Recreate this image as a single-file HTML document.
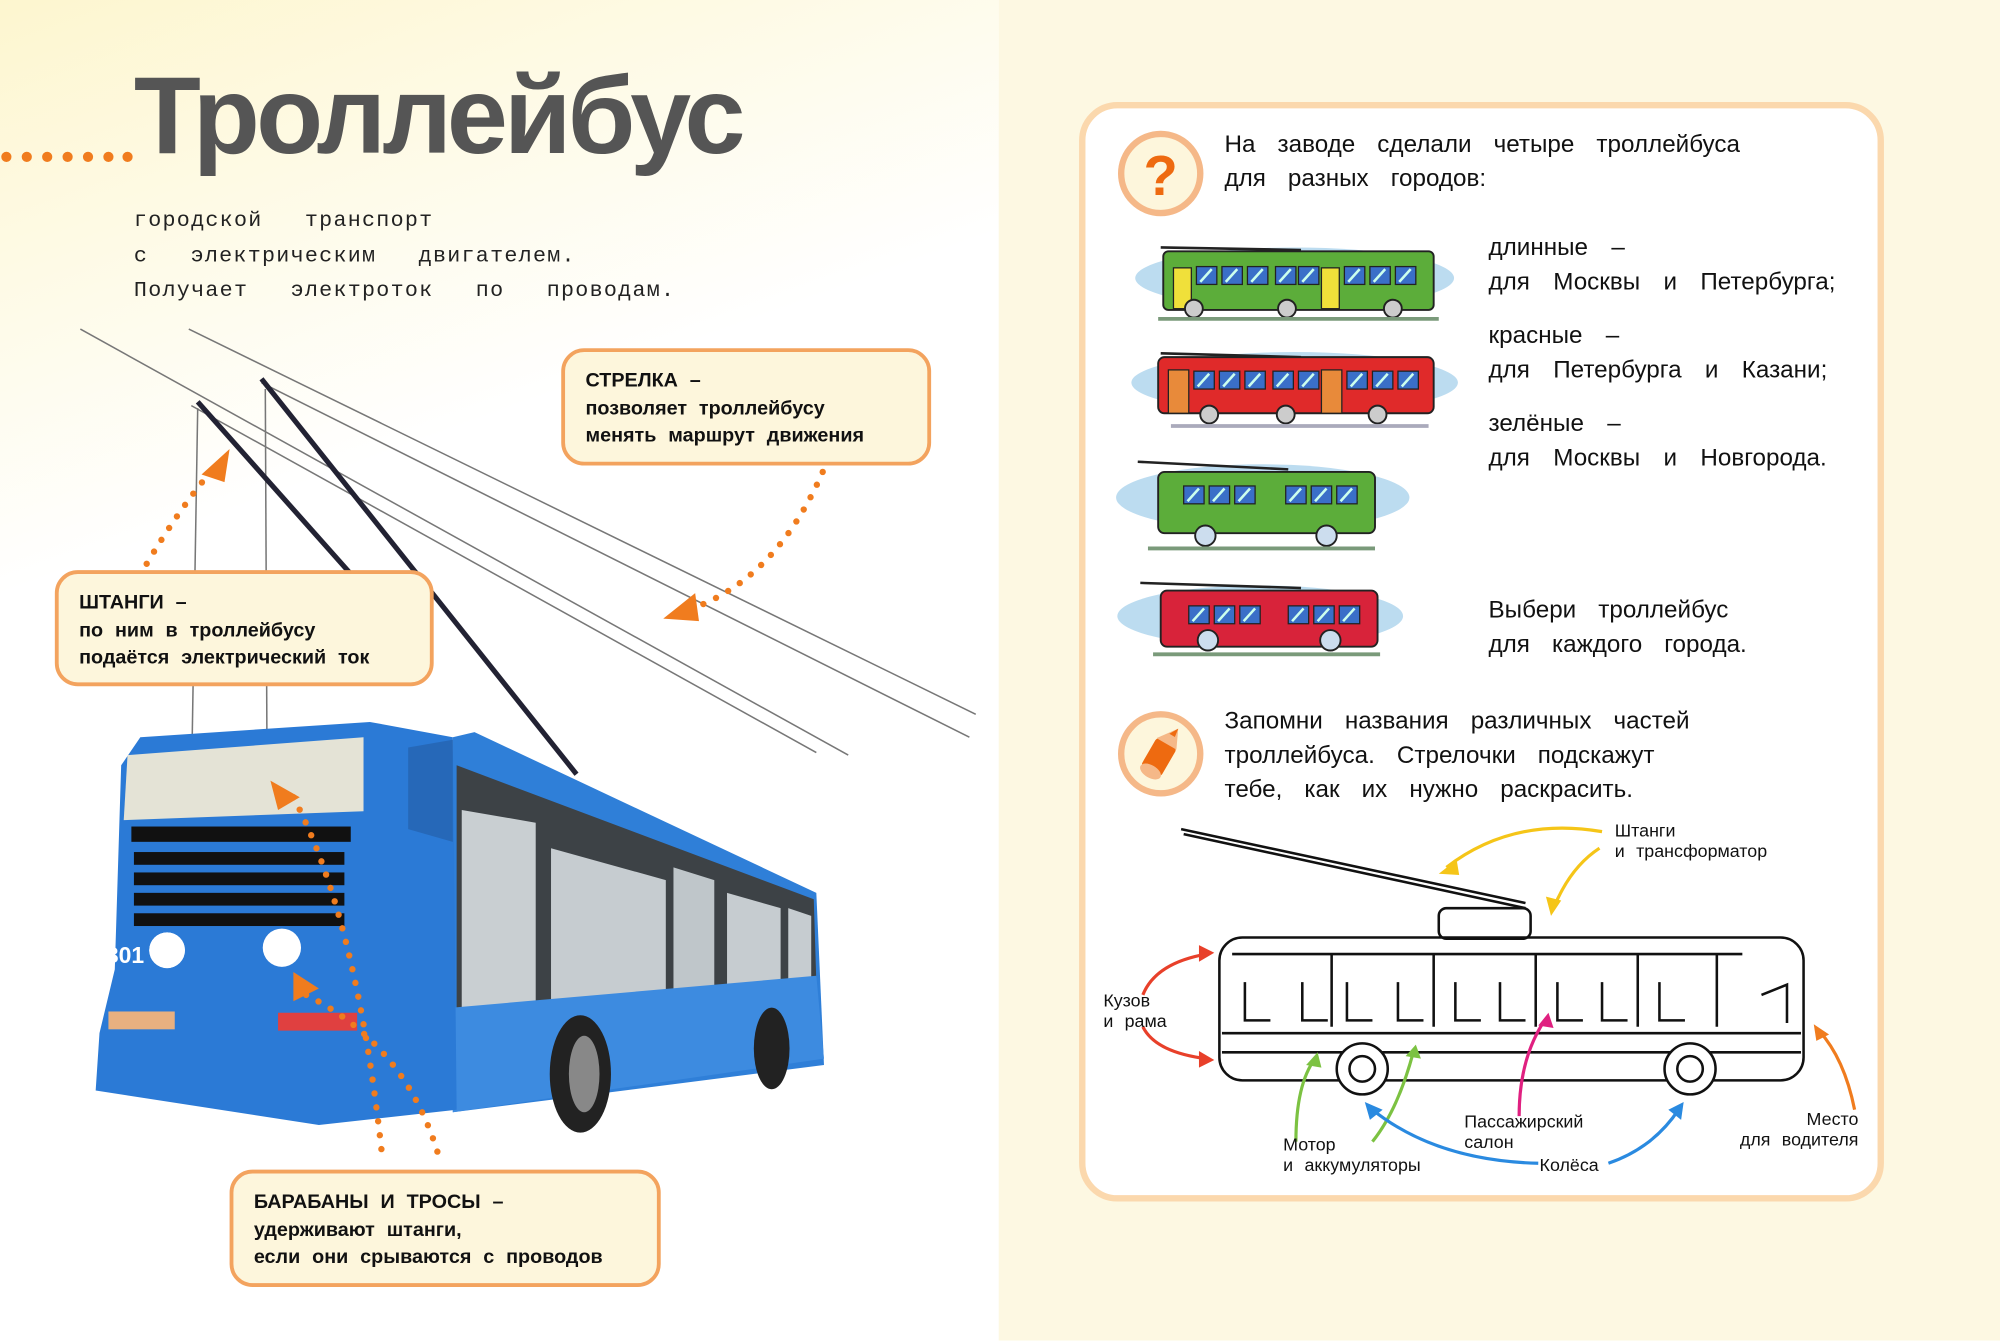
<!DOCTYPE html>
<html><head><meta charset="utf-8"><style>
html,body{margin:0;padding:0;width:2000px;height:1340px;overflow:hidden;background:#fff}
#w{position:absolute;left:0;top:0;width:1568px;height:1051px;transform:scale(1.27551);transform-origin:0 0;font-family:"Liberation Sans","Noto Sans CJK SC",sans-serif}
.t{position:absolute;white-space:nowrap}
.box{position:absolute;border:3px solid #f3a35e;border-radius:18px;background:#fdf6dc;box-sizing:border-box;font-weight:bold;font-size:15.5px;line-height:21.5px;word-spacing:5px;color:#111;padding:12px 0 0 16px}
.rt{font-size:19px;line-height:27px;word-spacing:12px;color:#111}
.sm{font-size:14px;line-height:16px;word-spacing:5px;color:#111}
</style></head><body><div id="w">
<div style="position:absolute;left:0;top:0;width:783px;height:1051px;background:linear-gradient(160deg,#fdf6cf 0%,#fff 35%)"></div>
<div style="position:absolute;left:783px;top:0;width:785px;height:1051px;background:#fdf8e2"></div>

<div class="t" style="left:105px;top:42px;font-size:86px;font-weight:bold;color:#555;letter-spacing:-3px">Троллейбус</div>
<svg style="position:absolute;left:0;top:115px" width="110" height="16"><g fill="#f07c1e"><circle cx="5" cy="8" r="4"/><circle cx="21" cy="8" r="4"/><circle cx="37" cy="8" r="4"/><circle cx="53" cy="8" r="4"/><circle cx="69" cy="8" r="4"/><circle cx="85" cy="8" r="4"/><circle cx="100" cy="8" r="4"/></g></svg>
<div class="t" style="left:105px;top:160px;font-family:'Liberation Mono',monospace;font-size:17px;line-height:27.5px;letter-spacing:1px;word-spacing:22px;color:#222">городской транспорт<br>с электрическим двигателем.<br>Получает электроток по проводам.</div>

<svg style="position:absolute;left:0;top:0" width="783" height="1051">
<g stroke="#777" stroke-width="1.2" fill="none">
<line x1="63" y1="258" x2="665" y2="592"/>
<line x1="148" y1="258" x2="765" y2="560"/>
<line x1="205" y1="300" x2="760" y2="578"/>
<line x1="150" y1="318" x2="640" y2="590"/>
<line x1="155" y1="320" x2="148" y2="740"/>
<line x1="208" y1="305" x2="210" y2="740"/>
</g>
<polygon points="355,578 372,574 640,700 646,835 355,872" fill="#2f7fd8"/>
<polygon points="358,600 638,705 640,770 358,790" fill="#3d4246"/>
<polygon points="362,635 420,645 420,790 362,795" fill="#c9cfd2"/>
<polygon points="432,665 522,690 522,780 432,785" fill="#c6ccd0"/>
<polygon points="528,680 560,690 560,775 528,778" fill="#bfc6ca"/>
<polygon points="570,700 612,712 612,770 570,772" fill="#c6ccd0"/>
<polygon points="618,712 636,718 636,770 618,771" fill="#c6ccd0"/>
<polygon points="355,790 640,765 646,830 355,872" fill="#3d8be0"/>
<ellipse cx="455" cy="842" rx="24" ry="46" fill="#222"/>
<ellipse cx="458" cy="842" rx="12" ry="30" fill="#888"/>
<ellipse cx="605" cy="822" rx="14" ry="32" fill="#222"/>
<polygon points="95,600 110,578 290,566 355,578 358,870 250,882 75,855 78,810 90,760" fill="#2b7ad6"/>
<polygon points="97,643 100,592 285,578 285,636" fill="#e4e3d6"/>
<g fill="#111"><rect x="103" y="648" width="172" height="12"/><rect x="105" y="668" width="165" height="10"/><rect x="105" y="684" width="165" height="10"/><rect x="105" y="700" width="165" height="10"/><rect x="105" y="716" width="165" height="10"/></g>
<circle cx="131" cy="745" r="14" fill="#fff"/><circle cx="221" cy="743" r="15" fill="#fff"/>
<text x="83" y="755" font-family="Liberation Sans" font-weight="bold" font-size="18" fill="#fff">301</text>
<circle cx="131" cy="745" r="14" fill="#fff"/>
<rect x="85" y="793" width="52" height="14" fill="#e8b080"/><rect x="218" y="794" width="62" height="14" fill="#e04040"/>
<polygon points="320,586 355,580 355,660 320,650" fill="#2668b8"/>
<line x1="452" y1="607" x2="205" y2="297" stroke="#223" stroke-width="4"/>
<line x1="275" y1="450" x2="155" y2="315" stroke="#223" stroke-width="4"/>
<g fill="none" stroke="#f07c1e" stroke-width="5" stroke-linecap="round" stroke-dasharray="0 11">
<path d="M115 442 Q140 400 165 370"/>
<path d="M645 370 Q610 450 548 475"/>
<path d="M230 625 Q280 720 300 910"/>
<path d="M240 780 Q320 820 345 910"/>
</g>
<g fill="#f07c1e"><polygon points="180,352 158,372 176,378"/><polygon points="520,485 545,465 548,487"/><polygon points="212,612 235,625 218,635"/><polygon points="230,762 250,775 230,785"/></g>
</svg>

<div class="box" style="left:440px;top:273px;width:290px;height:92px">СТРЕЛКА –<br>позволяет троллейбусу<br>менять маршрут движения</div>
<div class="box" style="left:43px;top:447px;width:297px;height:91px">ШТАНГИ –<br>по ним в троллейбусу<br>подаётся электрический ток</div>
<div class="box" style="left:180px;top:917px;width:338px;height:92px">БАРАБАНЫ И ТРОСЫ –<br>удерживают штанги,<br>если они срываются с проводов</div>

<div style="position:absolute;left:846px;top:80px;width:631px;height:862px;border:5px solid #fbd8ad;border-radius:30px;background:#fff;box-sizing:border-box"></div>
<svg style="position:absolute;left:874px;top:100px" width="72" height="72"><circle cx="36" cy="36" r="31" fill="#fdf6dc" stroke="#f5b888" stroke-width="5"/><text x="36" y="53" text-anchor="middle" font-family="Liberation Sans" font-weight="bold" font-size="44" fill="#ee6a10">?</text></svg>
<div class="t rt" style="left:960px;top:100px">На заводе сделали четыре троллейбуса<br>для разных городов:</div>

<svg style="position:absolute;left:874px;top:555px" width="72" height="72"><circle cx="36" cy="36" r="31" fill="#fdf6dc" stroke="#f5b888" stroke-width="5"/><g transform="rotate(30 36 36)"><rect x="27" y="26" width="18" height="26" rx="3" fill="#ee6a10"/><polygon points="27,27 45,27 38,12" fill="#f5b888"/><polygon points="34,19 39,19 38,12" fill="#ee6a10"/><ellipse cx="36" cy="52" rx="9" ry="5" fill="#f5b888"/></g></svg>
<div class="t rt" style="left:960px;top:552px">Запомни названия различных частей<br>троллейбуса. Стрелочки подскажут<br>тебе, как их нужно раскрасить.</div>

<div class="t rt" style="left:1167px;top:181px;word-spacing:13px">длинные –<br>для Москвы и Петербурга;</div>
<div class="t rt" style="left:1167px;top:250px;word-spacing:13px">красные –<br>для Петербурга и Казани;</div>
<div class="t rt" style="left:1167px;top:319px;word-spacing:13px">зелёные –<br>для Москвы и Новгорода.</div>
<div class="t rt" style="left:1167px;top:465px">Выбери троллейбус<br>для каждого города.</div>

<svg style="position:absolute;left:870px;top:180px" width="290" height="350">
<defs>
<g id="win"><rect width="16" height="14" fill="#3a6fc8" stroke="#222" stroke-width="1"/><line x1="3" y1="12" x2="12" y2="2" stroke="#cfe" stroke-width="2"/></g>
</defs>
<ellipse cx="145" cy="38" rx="125" ry="24" fill="#bcdcf0"/>
<line x1="40" y1="14" x2="150" y2="16" stroke="#222" stroke-width="2"/>
<rect x="42" y="17" width="212" height="46" rx="4" fill="#5cad3a" stroke="#222" stroke-width="1.5"/>
<rect x="50" y="30" width="14" height="32" fill="#f0e03a" stroke="#222"/><rect x="166" y="30" width="14" height="32" fill="#f0e03a" stroke="#222"/>
<use href="#win" x="68" y="29"/><use href="#win" x="88" y="29"/><use href="#win" x="108" y="29"/><use href="#win" x="130" y="29"/><use href="#win" x="148" y="29"/><use href="#win" x="184" y="29"/><use href="#win" x="204" y="29"/><use href="#win" x="224" y="29"/>
<g fill="#ccc" stroke="#222" stroke-width="1.5"><circle cx="66" cy="62" r="7"/><circle cx="139" cy="62" r="7"/><circle cx="222" cy="62" r="7"/></g>
<line x1="38" y1="70" x2="258" y2="70" stroke="#7a9a7a" stroke-width="3"/>
<ellipse cx="145" cy="120" rx="128" ry="24" fill="#bcdcf0"/>
<line x1="40" y1="97" x2="150" y2="100" stroke="#222" stroke-width="2"/>
<rect x="38" y="100" width="216" height="44" rx="5" fill="#e02a2a" stroke="#222" stroke-width="1.5"/>
<rect x="46" y="110" width="16" height="34" fill="#e88a3a" stroke="#222"/><rect x="166" y="110" width="16" height="34" fill="#e88a3a" stroke="#222"/>
<use href="#win" x="66" y="111"/><use href="#win" x="86" y="111"/><use href="#win" x="106" y="111"/><use href="#win" x="128" y="111"/><use href="#win" x="148" y="111"/><use href="#win" x="186" y="111"/><use href="#win" x="206" y="111"/><use href="#win" x="226" y="111"/>
<g fill="#ccc" stroke="#222" stroke-width="1.5"><circle cx="78" cy="145" r="7"/><circle cx="138" cy="145" r="7"/><circle cx="210" cy="145" r="7"/></g>
<line x1="48" y1="154" x2="250" y2="154" stroke="#aab" stroke-width="3"/>
<ellipse cx="120" cy="210" rx="115" ry="26" fill="#bcdcf0"/>
<line x1="22" y1="182" x2="140" y2="188" stroke="#222" stroke-width="2"/>
<rect x="38" y="190" width="170" height="48" rx="5" fill="#5cad3a" stroke="#222" stroke-width="1.5"/>
<use href="#win" x="58" y="201"/><use href="#win" x="78" y="201"/><use href="#win" x="98" y="201"/><use href="#win" x="138" y="201"/><use href="#win" x="158" y="201"/><use href="#win" x="178" y="201"/>
<g fill="#cde" stroke="#222" stroke-width="1.5"><circle cx="75" cy="240" r="8"/><circle cx="170" cy="240" r="8"/></g>
<line x1="30" y1="250" x2="208" y2="250" stroke="#7a9a7a" stroke-width="3"/>
<ellipse cx="118" cy="303" rx="112" ry="24" fill="#bcdcf0"/>
<line x1="24" y1="277" x2="150" y2="281" stroke="#222" stroke-width="2"/>
<rect x="40" y="283" width="170" height="44" rx="5" fill="#d8233a" stroke="#222" stroke-width="1.5"/>
<use href="#win" x="62" y="295"/><use href="#win" x="82" y="295"/><use href="#win" x="102" y="295"/><use href="#win" x="140" y="295"/><use href="#win" x="160" y="295"/><use href="#win" x="180" y="295"/>
<g fill="#cde" stroke="#222" stroke-width="1.5"><circle cx="77" cy="322" r="8"/><circle cx="173" cy="322" r="8"/></g>
<line x1="34" y1="333" x2="212" y2="333" stroke="#7a9a7a" stroke-width="3"/>
</svg>

<svg style="position:absolute;left:846px;top:630px" width="631" height="300">
<g fill="none" stroke="#111" stroke-width="2">
<path d="M80 20 L350 78"/><path d="M82 24 L350 82"/>
<rect x="282" y="82" width="72" height="24" rx="6"/>
<rect x="110" y="105" width="458" height="112" rx="18"/>
<line x1="112" y1="180" x2="566" y2="180"/>
<line x1="112" y1="195" x2="566" y2="195"/>
<path d="M120 118 H520"/>
<path d="M198 118 V175 M278 118 V175 M358 118 V175 M438 118 V175 M500 118 V175"/>
<path d="M130 140 v30 h20 M175 140 v30 h20 M210 140 v30 h20 M250 140 v30 h20 M295 140 v30 h20 M330 140 v30 h20 M375 140 v30 h20 M410 140 v30 h20 M455 140 v30 h20 M535 150 l20 -8 v30"/>
</g>
<g fill="#fff" stroke="#111" stroke-width="2"><circle cx="222" cy="208" r="20"/><circle cx="222" cy="208" r="10"/><circle cx="479" cy="208" r="20"/><circle cx="479" cy="208" r="10"/></g>
<g fill="none" stroke-width="2.5">
<path d="M410 22 Q340 10 288 50" stroke="#f5c518"/><path d="M408 35 Q385 50 372 82" stroke="#f5c518"/>
<path d="M50 150 Q60 125 100 118" stroke="#e8402a"/><path d="M50 175 Q60 195 100 200" stroke="#e8402a"/>
<path d="M170 265 Q170 220 185 200" stroke="#7cc242"/><path d="M230 265 Q250 240 262 195" stroke="#7cc242"/>
<path d="M345 245 Q345 200 365 170" stroke="#e02080"/>
<path d="M360 282 Q280 280 230 240" stroke="#2a8ae0"/><path d="M415 282 Q450 270 470 240" stroke="#2a8ae0"/>
<path d="M608 240 Q600 200 580 178" stroke="#f07c1e"/>
</g>
<g><polygon points="282,55 296,44 298,56" fill="#f5c518"/><polygon points="370,88 366,73 378,76" fill="#f5c518"/>
<polygon points="106,117 94,111 94,124" fill="#e8402a"/><polygon points="106,201 94,194 94,207" fill="#e8402a"/>
<polygon points="187,195 178,205 190,207" fill="#7cc242"/><polygon points="264,189 256,198 268,200" fill="#7cc242"/>
<polygon points="368,164 360,174 372,176" fill="#e02080"/>
<polygon points="224,234 228,248 238,240" fill="#2a8ae0"/><polygon points="474,234 462,240 472,248" fill="#2a8ae0"/>
<polygon points="576,173 578,186 588,181" fill="#f07c1e"/></g>
</svg>
<div class="t sm" style="left:1266px;top:643px">Штанги<br>и трансформатор</div>
<div class="t sm" style="left:865px;top:776px">Кузов<br>и рама</div>
<div class="t sm" style="left:1148px;top:871px">Пассажирский<br>салон</div>
<div class="t sm" style="left:1006px;top:889px">Мотор<br>и аккумуляторы</div>
<div class="t sm" style="left:1207px;top:905px">Колёса</div>
<div class="t sm" style="left:1340px;top:869px;width:117px;text-align:right">Место<br>для водителя</div>
</div></body></html>
